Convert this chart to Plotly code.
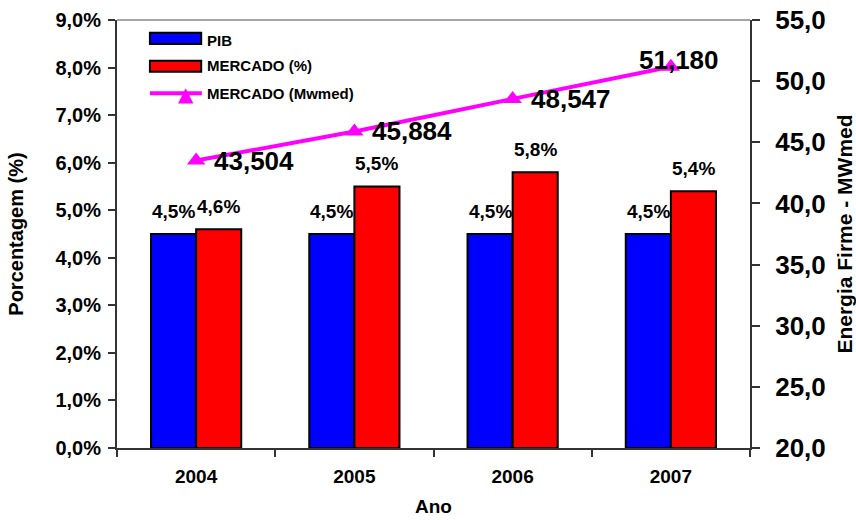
import plotly.graph_objects as go

years = ["2004", "2005", "2006", "2007"]
pib = [4.5, 4.5, 4.5, 4.5]
mercado_pct = [4.6, 5.5, 5.8, 5.4]
mercado_mw = [43.504, 45.884, 48.547, 51.180]

FONT = "Liberation Sans, Arial, sans-serif"
AXC = "#333333"

def br(v, d):
    return f"{v:.{d}f}".replace(".", ",")

fig = go.Figure()
fig.add_trace(go.Bar(x=years, y=pib, name="PIB", marker=dict(color="#0000FF", line=dict(color="black", width=2))))
fig.add_trace(go.Bar(x=years, y=mercado_pct, name="MERCADO (%)", marker=dict(color="#FF0000", line=dict(color="black", width=2))))
fig.add_trace(go.Scatter(x=years, y=mercado_mw, yaxis="y2", name="MERCADO (Mwmed)", mode="lines+markers",
                         line=dict(color="#FF00FF", width=4),
                         marker=dict(symbol="triangle-up", size=16, color="#FF00FF")))

ann = []
# bar labels (x given as category index)
for i, (a, b) in enumerate(zip(pib, mercado_pct)):
    for v, sh in ((a, -22.5), (b, 22.5)):
        ann.append(dict(x=i, y=v, xref="x", yref="y", text=br(v, 1) + "%", showarrow=False,
                        xshift=sh, yshift=23, font=dict(family=FONT, size=19, color="black", weight="bold")))
# line labels
for i, v in enumerate(mercado_mw):
    last = i == len(years) - 1
    ann.append(dict(x=i, y=v, xref="x", yref="y2", text=br(v, 3), showarrow=False,
                    xanchor="center" if last else "left", xshift=8 if last else 16, yshift=7 if last else 0,
                    font=dict(family=FONT, size=26, color="black", weight="bold")))
# legend
leg = [("PIB", 0.953), ("MERCADO (%)", 0.893), ("MERCADO (Mwmed)", 0.829)]
for t, yy in leg:
    ann.append(dict(x=0.139, y=yy, xref="paper", yref="paper", text=t, showarrow=False, xanchor="left",
                    yanchor="middle", font=dict(family=FONT, size=15, color="black", weight="bold")))
ann.append(dict(x=0.093, y=0.860, xref="paper", yref="paper", text="▲", showarrow=False,
                font=dict(family="DejaVu Sans", size=20, color="#FF00FF")))

shapes = [
    dict(type="rect", xref="paper", yref="paper", x0=0.052, x1=0.133, y0=0.944, y1=0.970,
         fillcolor="#0000FF", line=dict(color="black", width=2)),
    dict(type="rect", xref="paper", yref="paper", x0=0.052, x1=0.133, y0=0.879, y1=0.905,
         fillcolor="#FF0000", line=dict(color="black", width=2)),
    dict(type="line", xref="paper", yref="paper", x0=0.052, x1=0.134, y0=0.829, y1=0.829,
         line=dict(color="#FF00FF", width=4)),
    dict(type="line", xref="paper", yref="paper", x0=0, x1=1, y0=1, y1=1,
         line=dict(color="#888888", width=1.5)),
]

tickfont_l = dict(family=FONT, size=20, color="black", weight="bold")
tickfont_r = dict(family=FONT, size=26, color="black", weight="bold")

fig.update_layout(
    width=856, height=520, template="none",
    margin=dict(l=117, r=106, t=20, b=72),
    paper_bgcolor="white", plot_bgcolor="white",
    barmode="group", bargap=0.43, bargroupgap=0,
    showlegend=False,
    separators=",.",
    annotations=ann, shapes=shapes,
    xaxis=dict(type="category", range=[-0.5, len(years) - 0.5], tickson="boundaries", ticks="outside",
               ticklen=7, tickcolor=AXC, tickwidth=1.5, ticklabelstandoff=10,
               showline=True, linecolor=AXC, linewidth=2, showgrid=False, automargin=False,
               tickfont=dict(family=FONT, size=19, color="black", weight="bold"),
               title=dict(text="Ano", font=dict(family=FONT, size=19, color="black", weight="bold"), standoff=14)),
    yaxis=dict(range=[0, 9], dtick=1, tickformat=".1f", ticksuffix="%", ticks="outside", ticklen=7,
               tickcolor=AXC, tickwidth=1.5, showline=True, linecolor=AXC, linewidth=2, showgrid=False,
               zeroline=False, automargin=False, tickfont=tickfont_l, ticklabelstandoff=3,
               title=dict(text="Porcentagem (%)", font=dict(family=FONT, size=20, color="black", weight="bold"), standoff=26)),
    yaxis2=dict(range=[20, 55], dtick=5, tickformat=".1f", overlaying="y", side="right", ticks="outside",
                ticklen=8, tickcolor=AXC, tickwidth=1.5, showline=True, linecolor=AXC, linewidth=2,
                showgrid=False, zeroline=False, automargin=False, tickfont=tickfont_r, ticklabelstandoff=10,
                title=dict(text="Energia Firme - MWmed", font=dict(family=FONT, size=21, color="black", weight="bold"), standoff=13)),
    yaxis3=dict(range=[0, 9], dtick=1, overlaying="y", side="left", ticks="inside", ticklen=6, tickcolor=AXC,
                tickwidth=1.5, showticklabels=False, showgrid=False, zeroline=False, showline=False),
    yaxis4=dict(range=[20, 55], dtick=5, overlaying="y", side="right", ticks="inside", ticklen=7, tickcolor=AXC,
                tickwidth=1.5, showticklabels=False, showgrid=False, zeroline=False, showline=False),
    xaxis2=dict(range=[-0.5, len(years) - 0.5], dtick=1, tick0=0.5, overlaying="x", side="bottom",
                ticks="inside", ticklen=6, tickcolor=AXC, tickwidth=1.5, showticklabels=False,
                showgrid=False, zeroline=False, showline=False),
)
fig.write_html("out.html")
